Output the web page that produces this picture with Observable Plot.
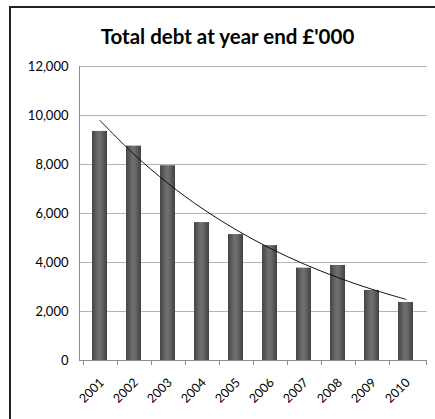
<!DOCTYPE html>
<html>
<head>
<meta charset="utf-8">
<script src="https://cdn.jsdelivr.net/npm/d3@7"></script>
<script src="https://cdn.jsdelivr.net/npm/@observablehq/plot@0.6"></script>
<style>
  html, body { margin: 0; padding: 0; background: #fff; overflow: hidden; }
  #wrap { position: relative; width: 435px; height: 419px; }
  #frame { position: absolute; left: 9px; top: 6px; width: 440px; height: 430px;
           border-top: 2px solid #222; border-left: 2px solid #222; box-sizing: border-box; }
  #title { position: absolute; left: 0; top: 26px; width: 455px; text-align: center;
           font-family: Lato, "Open Sans", sans-serif; font-weight: bold; font-size: 20.5px; color: #000; line-height: 1; }
  #chart { position: absolute; left: 0; top: 0; }
</style>
</head>
<body>
<div id="wrap">
  <div id="frame"></div>
  <div id="chart"></div>
  <div id="title">Total debt at year end £'000</div>
</div>
<script>
const years = ["2001","2002","2003","2004","2005","2006","2007","2008","2009","2010"];
const debt = [9350, 8750, 7950, 5630, 5140, 4690, 3770, 3880, 2860, 2370];
const yTicks = [0, 2000, 4000, 6000, 8000, 10000, 12000];

const data = years.map((y, i) => ({year: y, value: debt[i]}));

// Exponential trendline (least squares on ln values), as Excel does
const xsIdx = years.map((_, i) => i + 1);
const ls = debt.map(v => Math.log(v));
const mx = d3.mean(xsIdx), ml = d3.mean(ls);
const b = d3.sum(xsIdx, (x, i) => (x - mx) * (ls[i] - ml)) / d3.sum(xsIdx, x => (x - mx) ** 2);
const a = ml - b * mx;
const trend = years.map((y, i) => ({year: y, value: Math.exp(a + b * (i + 1))}));

const NS = "http://www.w3.org/2000/svg";
function defs() {
  const g = document.createElementNS(NS, "defs");
  g.innerHTML = `
    <linearGradient id="barGrad" x1="0" x2="1" y1="0" y2="0">
      <stop offset="0" stop-color="#444444"/>
      <stop offset="0.45" stop-color="#707070"/>
      <stop offset="0.6" stop-color="#6a6a6a"/>
      <stop offset="1" stop-color="#404040"/>
    </linearGradient>
    <linearGradient id="capGrad" x1="0" x2="1" y1="0" y2="0">
      <stop offset="0" stop-color="#6a6a6a"/>
      <stop offset="0.5" stop-color="#b5b5b5"/>
      <stop offset="1" stop-color="#6a6a6a"/>
    </linearGradient>`;
  return g;
}

const gap = 1.2 / 2.2;

const plot = Plot.plot({
  width: 435,
  height: 419,
  marginLeft: 79,
  marginRight: 8,
  marginTop: 66,
  marginBottom: 59,
  style: {fontFamily: "Lato, 'Open Sans', sans-serif", fontSize: "12px", color: "#000", background: "transparent"},
  x: {domain: years, paddingInner: gap, paddingOuter: gap / 2, align: 0.5, label: null},
  y: {domain: [0, 12000], label: null},
  marks: [
    defs,
    Plot.ruleY(yTicks.filter(d => d > 0), {stroke: "#b4b4b4", strokeWidth: 1}),
    Plot.axisY({ticks: yTicks, tickFormat: d3.format(","), tickSize: 0, tickPadding: 11, fontSize: 13}),
    Plot.axisX({tickSize: 0, tickRotate: -45, tickPadding: 10, fontSize: 12.5, dx: 2, dy: 10}),
    Plot.barY(data, {x: "year", y: "value", fill: "url(#barGrad)"}),
    Plot.tickY(data, {x: "year", y: "value", stroke: "url(#capGrad)", strokeWidth: 4, dy: 2, insetLeft: 1.5, insetRight: 1.5}),
    Plot.line(trend, {x: "year", y: "value", stroke: "#111", strokeWidth: 1, curve: "catmull-rom"}),
    (index, scales, values, dims) => {
      const g = document.createElementNS(NS, "g");
      const xs = scales.x;
      const step = xs.step ? xs.step() : (xs.bandwidth() / (1 - gap));
      const y0 = dims.height - dims.marginBottom;
      const x0 = dims.marginLeft;
      const x1 = dims.width - dims.marginRight;
      let s = `<line x1="${x0}" x2="${x1}" y1="${y0 + 0.5}" y2="${y0 + 0.5}" stroke="#8c8c8c"/>`;
      s += `<line x1="${x0 + 0.5}" x2="${x0 + 0.5}" y1="${dims.marginTop}" y2="${y0}" stroke="#8c8c8c"/>`;
      years.forEach((yr) => {
        const bx = Math.round(xs(yr) - (step - xs.bandwidth()) / 2) + 0.5;
        s += `<line x1="${bx}" x2="${bx}" y1="${y0}" y2="${y0 + 5}" stroke="#8c8c8c"/>`;
      });
      const last = Math.round(x1) - 0.5;
      s += `<line x1="${last}" x2="${last}" y1="${y0}" y2="${y0 + 5}" stroke="#8c8c8c"/>`;
      g.innerHTML = s;
      return g;
    }
  ]
});
document.getElementById("chart").appendChild(plot);
</script>
</body>
</html>
